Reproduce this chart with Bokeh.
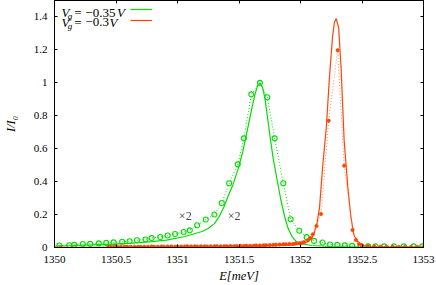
from bokeh.plotting import figure
from bokeh.models import Range1d, FixedTicker, LinearAxis, Label, Legend, LegendItem
from bokeh.core.properties import value
from bokeh.embed import file_html
from bokeh.resources import INLINE

# ---------------- data ----------------
x_ticks = [1350, 1350.5, 1351, 1351.5, 1352, 1352.5, 1353]
x_tick_labels = ["1350", "1350.5", "1351", "1351.5", "1352", "1352.5", "1353"]
y_ticks = [0, 0.2, 0.4, 0.6, 0.8, 1.0, 1.2, 1.4]
y_tick_labels = ["0", "0.2", "0.4", "0.6", "0.8", "1", "1.2", "1.4"]

series_names = ["V_g = -0.35V", "V_g = -0.3V"]

# Vg = -0.35 V : fit (solid)
g_fit_E = [1350.00, 1350.15, 1350.31, 1350.47, 1350.63, 1350.79, 1350.91, 1351.06,
           1351.20, 1351.25, 1351.30, 1351.34, 1351.38, 1351.41, 1351.45, 1351.49,
           1351.53, 1351.57, 1351.60, 1351.63, 1351.65, 1351.67, 1351.69, 1351.71,
           1351.73, 1351.755, 1351.78, 1351.81, 1351.84, 1351.87, 1351.90, 1351.93,
           1351.96, 1352.00, 1352.09, 1352.25, 1352.49, 1353.00]
g_fit_I = [0.009, 0.012, 0.016, 0.021, 0.027, 0.036, 0.045, 0.067,
           0.097, 0.115, 0.145, 0.190, 0.250, 0.310, 0.380, 0.470,
           0.580, 0.720, 0.830, 0.930, 0.980, 1.000, 0.975, 0.910,
           0.800, 0.660, 0.530, 0.410, 0.290, 0.190, 0.115, 0.068,
           0.040, 0.024, 0.012, 0.006, 0.003, 0.002]

# Vg = -0.35 V : measured (circles)
g_dat_E = [1350.04, 1350.12, 1350.16, 1350.23, 1350.29, 1350.36, 1350.42, 1350.48,
           1350.55, 1350.61, 1350.67, 1350.74, 1350.79, 1350.86, 1350.92, 1350.98,
           1351.05, 1351.10, 1351.16, 1351.23, 1351.30, 1351.36, 1351.42, 1351.49,
           1351.54, 1351.60, 1351.67, 1351.73, 1351.79, 1351.86, 1351.92, 1351.99,
           1352.05, 1352.11, 1352.18, 1352.24, 1352.30, 1352.36, 1352.42, 1352.49,
           1352.55, 1352.61, 1352.68, 1352.76, 1352.84, 1352.92, 1352.99]
g_dat_I = [0.012, 0.014, 0.016, 0.021, 0.022, 0.025, 0.028, 0.031,
           0.035, 0.038, 0.044, 0.049, 0.057, 0.064, 0.073, 0.082,
           0.094, 0.104, 0.135, 0.170, 0.200, 0.270, 0.390, 0.505,
           0.663, 0.930, 1.000, 0.912, 0.663, 0.390, 0.172, 0.102,
           0.063, 0.040, 0.030, 0.018, 0.016, 0.013, 0.010, 0.009,
           0.007, 0.007, 0.007, 0.007, 0.007, 0.007, 0.007]

# Vg = -0.3 V : fit (solid)
r_fit_E = [1350.00, 1351.20, 1351.68, 1351.92, 1352.005, 1352.06, 1352.09, 1352.11,
           1352.135, 1352.155, 1352.18, 1352.21, 1352.235, 1352.26, 1352.275, 1352.29,
           1352.31, 1352.33, 1352.355, 1352.385, 1352.41, 1352.435, 1352.48, 1352.545,
           1353.00]
r_fit_I = [0.001, 0.003, 0.008, 0.014, 0.022, 0.035, 0.055, 0.085,
           0.150, 0.245, 0.490, 0.730, 1.030, 1.275, 1.365, 1.390,
           1.335, 1.093, 0.648, 0.365, 0.184, 0.073, 0.022, 0.006,
           0.001]

# Vg = -0.3 V : measured (filled points)
r_dat_E = [1350.05,
           1350.44, 1350.46, 1350.49, 1350.51, 1350.54, 1350.57, 1350.59, 1350.62, 1350.65, 1350.68, 1350.70,
           1350.73, 1350.76, 1350.79, 1350.81, 1350.84, 1350.87, 1350.89, 1350.92, 1350.95, 1350.98, 1351.00,
           1351.03, 1351.06, 1351.08, 1351.11, 1351.14, 1351.16, 1351.19, 1351.22, 1351.24, 1351.27, 1351.30,
           1351.32, 1351.35, 1351.38, 1351.40, 1351.43, 1351.46, 1351.48, 1351.51, 1351.54, 1351.56, 1351.59,
           1351.62, 1351.64, 1351.67, 1351.70, 1351.72, 1351.75, 1351.78, 1351.80, 1351.83, 1351.86, 1351.88,
           1351.91, 1351.94, 1351.96, 1351.99, 1352.01, 1352.03, 1352.06, 1352.08, 1352.10, 1352.13,
           1352.167, 1352.229, 1352.302, 1352.355, 1352.423, 1352.45, 1352.475, 1352.50,
           1352.55, 1352.60, 1352.65, 1352.70, 1352.75, 1352.80, 1352.85, 1352.90, 1352.95, 1353.00]
r_dat_I = [0.000,
           0.004, 0.005, 0.004, 0.005, 0.004, 0.005, 0.005, 0.004, 0.005, 0.005, 0.004,
           0.005, 0.005, 0.006, 0.005, 0.005, 0.006, 0.005, 0.006, 0.006, 0.005, 0.006,
           0.006, 0.006, 0.007, 0.006, 0.007, 0.006, 0.007, 0.007, 0.006, 0.007, 0.007,
           0.008, 0.007, 0.008, 0.008, 0.009, 0.008, 0.009, 0.010, 0.009, 0.010, 0.010,
           0.011, 0.012, 0.012, 0.013, 0.014, 0.015, 0.016, 0.017, 0.018, 0.019, 0.020,
           0.021, 0.022, 0.024, 0.026, 0.028, 0.033, 0.045, 0.058, 0.080, 0.130,
           0.204, 0.770, 1.198, 0.497, 0.106, 0.045, 0.022, 0.012,
           0.008, 0.006, 0.005, 0.004, 0.004, 0.003, 0.003, 0.003, 0.003, 0.003]

GREEN = "#00dd00"
RED = "#ff4400"
RED_DOT = "#ff8a66"
SERIF = "Liberation Serif"

# ---------------- figure ----------------
p = figure(width=436, height=285, output_backend="svg", toolbar_location=None,
           x_range=Range1d(1350, 1353), y_range=Range1d(0, 1.5),
           min_border_left=52, min_border_right=13, min_border_top=0, min_border_bottom=37,
           background_fill_color="white", border_fill_color="white")
p.xgrid.visible = False
p.ygrid.visible = False
p.outline_line_color = "black"
p.outline_line_width = 1

def style_axis(ax, ticks, labels, show_labels=True):
    ax.ticker = FixedTicker(ticks=ticks)
    ax.major_tick_in = 3
    ax.major_tick_out = 0
    ax.minor_tick_line_color = None
    ax.axis_line_color = "black"
    ax.major_tick_line_color = "black"
    if show_labels:
        ax.major_label_overrides = dict(zip(ticks, labels))
        ax.major_label_text_font = SERIF
        ax.major_label_text_font_size = "11px"
        ax.major_label_text_color = "black"
    else:
        ax.major_label_overrides = {t: "" for t in ticks}
        ax.major_label_text_font_size = "0px"
        ax.major_label_standoff = 0

style_axis(p.xaxis[0], x_ticks, x_tick_labels)
style_axis(p.yaxis[0], y_ticks, y_tick_labels)
p.xaxis[0].major_label_standoff = 8
p.yaxis[0].major_label_standoff = 7
p.xaxis[0].axis_label = "E[meV]"
p.yaxis[0].axis_label = "I/I\u2080"
for ax in (p.xaxis[0], p.yaxis[0]):
    ax.axis_label_text_font = SERIF
    ax.axis_label_text_font_style = "italic"
    ax.axis_label_text_font_size = "12.5px"
    ax.axis_label_text_color = "black"
p.xaxis[0].axis_label_standoff = 3
p.yaxis[0].axis_label_standoff = 13

top_ax = LinearAxis()
right_ax = LinearAxis()
style_axis(top_ax, x_ticks, x_tick_labels, show_labels=False)
style_axis(right_ax, y_ticks, y_tick_labels, show_labels=False)
p.add_layout(top_ax, "above")
p.add_layout(right_ax, "right")

# ---------------- series ----------------
g_fit = p.line(g_fit_E, g_fit_I, line_color=GREEN, line_width=1.2)
p.line(g_dat_E, g_dat_I, line_color=GREEN, line_width=1, line_dash="1 2")
p.scatter(g_dat_E, g_dat_I, marker="circle", size=5, fill_color=None,
          line_color=GREEN, line_width=1.1)

r_fit = p.line(r_fit_E, r_fit_I, line_color=RED, line_width=1.2)
p.line(r_dat_E, r_dat_I, line_color=RED_DOT, line_width=1, line_dash="1 2")
p.scatter(r_dat_E, r_dat_I, marker="circle", size=3.5, fill_color=RED,
          line_color=RED, line_width=0.5)

# ---------------- legend (text left, sample right) ----------------
leg = Legend(items=[LegendItem(label=value(""), renderers=[g_fit]),
                    LegendItem(label=value(""), renderers=[r_fit])],
             location=(76, 222), orientation="vertical", padding=0, margin=0, spacing=1,
             glyph_width=22, glyph_height=10, label_height=10, label_width=0,
             label_standoff=0, label_text_font_size="1px",
             border_line_color=None, background_fill_alpha=0)
p.add_layout(leg)

def txt(x, y, s, size="13px", style="normal", align="left", color="black"):
    p.add_layout(Label(x=x, y=y, text=s, text_font=SERIF, text_font_size=size,
                       text_font_style=style, text_align=align, text_baseline="middle",
                       text_color=color))

rows = [(1.427, "\u22120.35", 1350.509), (1.367, "\u22120.3", 1350.447)]
for yy, num, vx in rows:
    txt(1350.056, yy, "V", style="italic")
    txt(1350.108, yy - 0.02, "g", size="9px", style="italic")
    txt(1350.160, yy, "=")
    txt(1350.251, yy, num)
    txt(vx, yy, "V", style="italic")

txt(1351.063, 0.191, "\u00d72", size="12px", align="center", color="#444444")
txt(1351.460, 0.191, "\u00d72", size="12px", align="center", color="#444444")

open("out.html", "w").write(file_html(p, INLINE))
